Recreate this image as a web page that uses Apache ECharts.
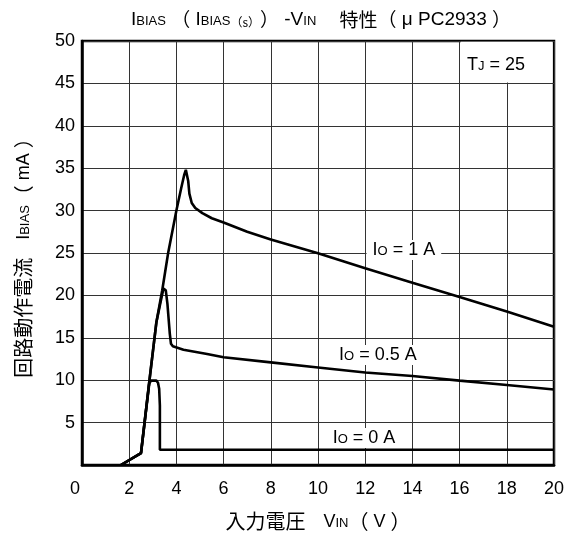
<!DOCTYPE html>
<html>
<head>
<meta charset="utf-8">
<script src="https://cdn.jsdelivr.net/npm/echarts@6/dist/echarts.min.js"></script>
<style>
html,body{margin:0;padding:0;background:#fff;}
#chart{width:580px;height:542px;}
</style>
</head>
<body>
<div id="chart"></div>
<script>
// ---- data ----
const xTicks = [0, 2, 4, 6, 8, 10, 12, 14, 16, 18, 20];
const yTicks = [0, 5, 10, 15, 20, 25, 30, 35, 40, 45, 50];

const io1X = [1.65, 2.5, 2.85, 3.15, 3.4, 3.65, 4.0, 4.2, 4.33, 4.4, 4.46, 4.5, 4.55, 4.65, 4.8, 5.1, 5.5, 6.0, 7.0, 8.0, 10, 12, 14, 16, 18, 20];
const io1Y = [0, 1.4, 9.8, 16.8, 20.6, 25.0, 30.0, 32.6, 34.2, 34.8, 34.6, 33.5, 32.0, 30.9, 30.3, 29.7, 29.1, 28.6, 27.5, 26.6, 24.96, 23.2, 21.5, 19.8, 18.1, 16.3];

const io05X = [1.65, 2.5, 2.85, 3.15, 3.35, 3.45, 3.5, 3.55, 3.62, 3.72, 3.77, 3.85, 4.3, 5.3, 6.0, 8.0, 10, 12, 14, 16, 18, 20];
const io05Y = [0, 1.4, 9.8, 16.8, 19.5, 20.8, 21.0, 20.6, 19.0, 15.5, 14.3, 14.0, 13.6, 13.1, 12.7, 12.1, 11.5, 10.9, 10.5, 9.95, 9.43, 8.9];

const io0X = [1.65, 2.5, 2.85, 2.92, 3.15, 3.22, 3.27, 3.3, 3.3, 20];
const io0Y = [0, 1.4, 9.6, 9.95, 9.95, 9.7, 9.0, 7.0, 1.8, 1.8];

const noteTexts = ['{b|I}{s|O}{b| = 1 A}', '{b|I}{s|O}{b| = 0.5 A}', '{b|I}{s|O}{b| = 0 A}', '{b|T}{s|J}{b| = 25}'];
const noteX = [13.64, 12.54, 11.95, 17.54];
const noteY = [25.35, 12.97, 3.18, 47.17];
const tjCell = [16, 45, 20, 50];

const titleText = '{t|I}{ts|BIAS}{t| }{tc|（}{t| I}{ts|BIAS}{tc2|（s）}{tc|）}{t| -V}{ts|IN}{tc|　 特性（}{t| μ PC2933 }{tc|）}';
const yName = '{c|回路動作電流}{b|　I}{s|BIAS}{c|（}{b| mA }{c|）}';
const xName = '{c|入力電圧}{b|　V}{s|IN}{c|（}{b| V }{c|）}';

// ---- chart ----
const FONT = '"Liberation Sans", Arial, "Noto Sans CJK JP", sans-serif';
const CJK = '"Noto Sans CJK JP", "Liberation Sans", sans-serif';
const zip = (xs, ys) => xs.map((x, i) => [x, ys[i]]);
const st = (size, fam) => ({ fontFamily: fam, fontSize: size, color: '#000', fontWeight: 'normal', verticalAlign: 'bottom' });
const richBase = {
  b: st(18, FONT),
  s: Object.assign(st(13, FONT), { padding: [0, 0, 1, 0] }),
  c: st(20, CJK),
  t: st(19, FONT),
  ts: Object.assign(st(13, FONT), { padding: [0, 0, 1, 0] }),
  tc: st(19, CJK),
  tc2: Object.assign(st(12, CJK), { padding: [0, 0, 1, 0] })
};

const chart = echarts.init(document.getElementById('chart'), null, { renderer: 'canvas' });

const lineStyle = { color: '#000', width: 2.6 };
function lineSeries(name, data) {
  return {
    name, type: 'line', data, showSymbol: false, symbol: 'none', smooth: false,
    lineStyle, silent: true, animation: false, z: 3
  };
}

chart.setOption({
  animation: false,
  backgroundColor: '#fff',
  textStyle: { fontFamily: FONT },
  title: {
    text: titleText,
    left: 316, top: 5, textAlign: 'center',
    textStyle: { rich: richBase, fontWeight: 'normal' }
  },
  grid: {
    left: 82, right: 26, top: 41, bottom: 77,
    show: true, borderColor: '#000', borderWidth: 2.5, backgroundColor: 'transparent'
  },
  xAxis: {
    type: 'value', min: 0, max: 20, interval: 2,
    name: xName, nameLocation: 'middle', nameGap: 46,
    nameTextStyle: { rich: richBase },
    axisLine: { show: true, lineStyle: { color: '#000', width: 2.5 } },
    axisTick: { show: false },
    splitLine: { show: true, lineStyle: { color: '#333', width: 1 } },
    axisLabel: {
      margin: 15, color: '#000', fontSize: 18, fontFamily: FONT,
      formatter: v => xTicks.includes(v) ? (v === 0 ? '{z|0}' : String(v)) : '',
      rich: { z: { fontSize: 18, fontFamily: FONT, color: '#000', padding: [0, 14, 0, 0] } }
    }
  },
  yAxis: {
    type: 'value', min: 0, max: 50, interval: 5,
    name: yName, nameLocation: 'middle', nameGap: 49, nameRotate: 90,
    nameTextStyle: { rich: richBase },
    axisLine: { show: true, lineStyle: { color: '#000', width: 2.5 } },
    axisTick: { show: false },
    splitLine: { show: true, lineStyle: { color: '#333', width: 1 } },
    axisLabel: {
      margin: 7, color: '#000', fontSize: 18, fontFamily: FONT,
      formatter: v => (v === 0 || !yTicks.includes(v)) ? '' : String(v)
    }
  },
  series: [
    lineSeries('Io=1A', zip(io1X, io1Y)),
    lineSeries('Io=0.5A', zip(io05X, io05Y)),
    lineSeries('Io=0A', zip(io0X, io0Y)),
    {
      name: 'notes', type: 'scatter', symbolSize: 1, silent: true, z: 5,
      itemStyle: { color: '#fff', opacity: 1 },
      data: noteTexts.map((t, i) => ({ value: [noteX[i], noteY[i]], text: t })),
      label: {
        show: true, position: 'inside', opacity: 1,
        formatter: p => p.data.text,
        backgroundColor: '#fff', padding: [1, 6, 1, 6],
        rich: richBase, fontFamily: FONT, fontSize: 18, color: '#000'
      },
      markArea: {
        silent: true,
        itemStyle: { color: '#fff', borderWidth: 0, opacity: 1 },
        data: [[{ coord: [tjCell[0] + 0.05, tjCell[1] + 0.12] }, { coord: [tjCell[2] - 0.06, tjCell[3] - 0.1] }]]
      }
    }
  ]
});
</script>
</body>
</html>
